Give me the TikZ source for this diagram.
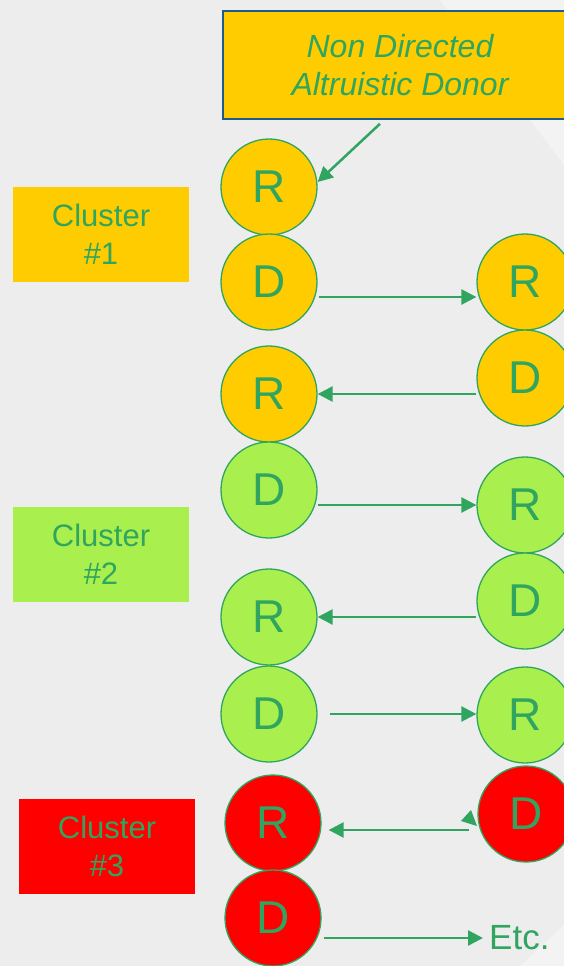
\documentclass[tikz,border=0pt]{standalone}
\usepackage{fontspec}
\setmainfont{Liberation Sans}
\usetikzlibrary{arrows.meta,calc}
\definecolor{bg}{RGB}{237,237,237}
\definecolor{bglight}{RGB}{243,243,243}
\definecolor{gold}{RGB}{255,204,0}
\definecolor{lime}{RGB}{169,240,78}
\definecolor{redc}{RGB}{255,0,0}
\definecolor{grn}{RGB}{47,165,96}
\definecolor{navy}{RGB}{31,92,139}
\tikzset{
  disc/.style={circle,minimum size=96pt,inner sep=0pt,draw=grn,line width=1.3pt,text=grn,font=\fontsize{46}{46}\selectfont},
  clbox/.style={rectangle,minimum width=176pt,minimum height=95pt,inner sep=0pt,text=grn,align=center,font=\fontsize{31}{38}\selectfont},
  arr/.style={draw=grn,line width=2.5pt,-{Triangle[length=15pt,width=15pt]}}
}
\begin{document}
\begin{tikzpicture}[x=1pt,y=-1pt]
\useasboundingbox (0,0) rectangle (564,966);
\clip (0,0) rectangle (564,966);
\fill[bg] (0,0) rectangle (564,966);
\fill[bglight] (440,0) -- (564,0) -- (564,165) -- cycle;
\fill[bglight] (520,966) -- (564,966) -- (564,925) -- cycle;
% top box
\node[rectangle,draw=navy,line width=1.8pt,fill=gold,minimum width=352pt,minimum height=108pt,anchor=north west,inner sep=0pt] (ndad) at (222,10) {};
\node[text=grn,align=center,font=\fontsize{32}{38}\selectfont\itshape] (ndadtxt) at (400,65) {Non Directed\\Altruistic Donor};
% cluster labels
\node[clbox,fill=gold] (c1) at (101,234) {Cluster\\\#1};
\node[clbox,fill=lime] (c2) at (101,554) {Cluster\\\#2};
\node[clbox,fill=redc] (c3) at (107,846) {Cluster\\\#3};
% left column
\node[disc,fill=gold] (R1) at (269,187) {R};
\node[disc,fill=gold] (D1) at (269,282) {D};
\node[disc,fill=gold] (R2) at (269,394) {R};
\node[disc,fill=lime] (D2) at (269,490) {D};
\node[disc,fill=lime] (R3) at (269,617) {R};
\node[disc,fill=lime] (D3) at (269,714) {D};
\node[disc,fill=redc] (R4) at (273,823) {R};
\node[disc,fill=redc] (D4) at (273,918) {D};
% right column
\node[disc,fill=gold] (Rr1) at (525,282) {R};
\node[disc,fill=gold] (Dr1) at (525,378) {D};
\node[disc,fill=lime] (Rr2) at (525,505) {R};
\node[disc,fill=lime] (Dr2) at (525,601) {D};
\node[disc,fill=lime] (Rr3) at (525,715) {R};
\node[disc,fill=redc] (Dr3) at (526,814) {D};
% etc
\node[text=grn,font=\fontsize{35}{35}\selectfont,anchor=west,inner sep=0pt] (etc) at (489,938) {Etc.};
% arrows
\draw[arr] ($(ndad.south west)+(158,4)$) -- ($(R1.east)+(0,-5)$);
\draw[arr] ($(D1.east)+(1,15)$) -- ($(Rr1.west)+(0,15)$);
\draw[arr] (Dr1.west |- R2.east) -- (R2.east);
\draw[arr] (D2.east |- Rr2.west) -- (Rr2.west);
\draw[arr] (Dr2.west |- R3.east) -- (R3.east);
\draw[arr] ($(D3.east)+(12,0)$) -- (D3.east -| Rr3.west);
\draw[arr] ($(R4.east -| Dr3.west)+(-8,7)$) -- ($(R4.east)+(7,7)$);
\fill[grn] (471,810) -- (461,821) -- (477,826) -- cycle;
\draw[arr] ($(D4.east)+(2,20)$) -- ($(D4.east -| etc.west)+(-6,20)$);
\end{tikzpicture}
\end{document}
